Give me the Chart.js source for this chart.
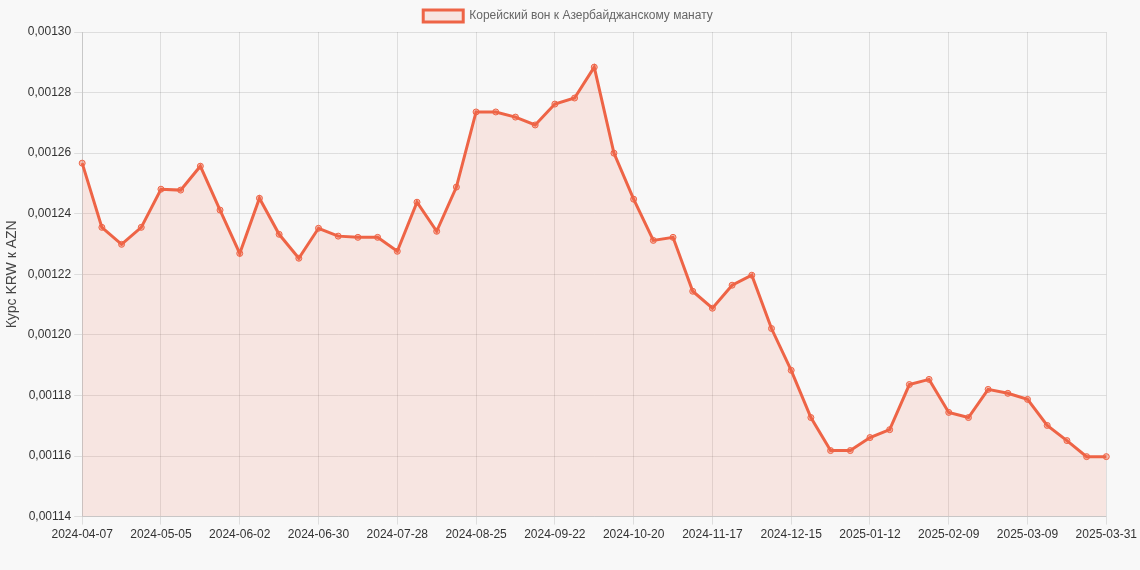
<!DOCTYPE html>
<html>
<head>
<meta charset="utf-8">
<script src="https://cdn.jsdelivr.net/npm/chart.js@4"></script>
<style>
html, body { margin: 0; padding: 0; background: #f8f8f8; }
#wrap { width: 1140px; height: 570px; }
</style>
</head>
<body>
<div id="wrap"><canvas id="rateChart"></canvas></div>
<script>
let dates = ["2024-04-07","2024-04-14","2024-04-21","2024-04-28","2024-05-05","2024-05-12","2024-05-19","2024-05-26",
  "2024-06-02","2024-06-09","2024-06-16","2024-06-23","2024-06-30","2024-07-07","2024-07-14","2024-07-21","2024-07-28",
  "2024-08-04","2024-08-11","2024-08-18","2024-08-25","2024-09-01","2024-09-08","2024-09-15","2024-09-22","2024-09-29",
  "2024-10-06","2024-10-13","2024-10-20","2024-10-27","2024-11-03","2024-11-10","2024-11-17","2024-11-24",
  "2024-12-01","2024-12-08","2024-12-15","2024-12-22","2024-12-29","2025-01-05","2025-01-12","2025-01-19","2025-01-26",
  "2025-02-02","2025-02-09","2025-02-16","2025-02-23","2025-03-02","2025-03-09","2025-03-16","2025-03-23","2025-03-30","2025-03-31"]

let rates = [0.0012567,0.0012355,0.0012299,0.0012355,0.0012481,0.0012478,0.0012557,0.0012412,
  0.0012269,0.0012451,0.0012332,0.0012253,0.0012352,0.0012326,0.0012322,0.0012322,0.0012276,
  0.0012438,0.0012342,0.0012488,0.0012736,0.0012736,0.0012719,0.0012693,0.0012762,0.0012782,
  0.0012884,0.0012600,0.0012448,0.0012312,0.0012322,0.0012144,0.0012088,0.0012164,
  0.0012197,0.0012021,0.0011883,0.0011727,0.0011618,0.0011618,0.0011661,0.0011687,0.0011836,
  0.0011853,0.0011744,0.0011727,0.0011820,0.0011807,0.0011787,0.0011701,0.0011651,0.0011598,0.0011598]

let seriesName = "Корейский вон к Азербайджанскому манату"
let yTitle = "Курс KRW к AZN"

Chart.defaults.font.family = "'Liberation Sans', Arial, sans-serif"
Chart.defaults.font.size = 12
Chart.defaults.color = "#666"

let ctx = document.getElementById("rateChart").getContext("2d")
let rateChart = new Chart(ctx, {
    type: "line",
    data: {
        labels: dates,
        datasets: [{
            label: seriesName,
            data: rates,
            borderColor: "#ee6446",
            backgroundColor: "rgba(238, 100, 70, 0.13)",
            borderWidth: 3,
            fill: true,
            tension: 0,
            pointRadius: 3,
            pointBorderWidth: 1,
            pointBackgroundColor: "rgba(238, 100, 70, 0.4)",
            pointBorderColor: "#ee6446"
        }]
    },
    options: {
        responsive: true,
        maintainAspectRatio: false,
        animation: false,
        layout: { padding: { right: 4, bottom: 25 } },
        plugins: {
            legend: {
                display: true,
                labels: { boxWidth: 40, boxHeight: 12, color: "#666" }
            }
        },
        scales: {
            x: {
                grid: { color: "rgba(0,0,0,0.1)" },
                ticks: {
                    autoSkip: false,
                    maxRotation: 0,
                    color: "#333",
                    callback: function (val, i) {
                        if (i % 4 === 0 || i === dates.length - 1) return dates[i]
                        return null
                    }
                }
            },
            y: {
                min: 0.00114,
                max: 0.0013,
                title: { display: true, text: yTitle, font: { size: 14 }, color: "#444" },
                grid: { color: "rgba(0,0,0,0.1)" },
                ticks: {
                    stepSize: 0.00002,
                    color: "#333",
                    callback: function (v) { return v.toFixed(5).replace(".", ",") }
                }
            }
        }
    }
})
</script>
</body>
</html>
